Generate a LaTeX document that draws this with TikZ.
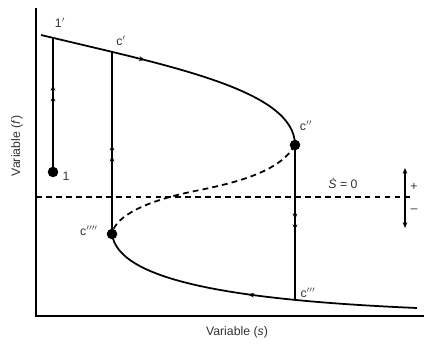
\documentclass[tikz,border=0pt]{standalone}
\usepackage{fontspec}
\setmainfont{Liberation Sans}
\usetikzlibrary{arrows.meta,decorations.markings,intersections}
\tikzset{
  curve/.style={line width=1.5pt},
  axis/.style={line width=1.6pt},
  tip/.tip={Stealth[length=5pt,width=4pt]},
  onehead/.style={postaction={decorate},
    decoration={markings,mark=at position #1 with {\arrow{tip}}}},
  backhead/.style={postaction={decorate},
    decoration={markings,mark=at position #1 with {\arrowreversed{tip}}}},
  twoheads/.style 2 args={postaction={decorate},
    decoration={markings,mark=at position #1 with {\arrow{tip}},
      mark=at position #2 with {\arrow{tip}}}},
  lbl/.style={font=\fontsize{10.5}{12}\selectfont,text=black!80,inner sep=1pt},
  dot/.style={circle,fill,inner sep=0pt,minimum size=9pt}
}
\begin{document}
\begin{tikzpicture}[x=0.03cm,y=-0.03cm]
  \useasboundingbox (0,0) rectangle (425,345);
  % axes
  \coordinate (orig) at (36,316);
  \draw[axis] (36,8) -- (orig) -- (424,316);
  \node[lbl,rotate=90] (labf) at (17,146) {Variable (\textit{f})};
  \node[lbl] (labs) at (237,332) {Variable (\textit{s})};
  % the S shaped curve
  \coordinate (top) at (41,35);
  \coordinate (cpp) at (295,145);
  \coordinate (c4) at (112,234);
  \coordinate (bot) at (417,308);
  \draw[curve,name path=upper,onehead=0.37] (top) .. controls (170,66) and (295,90) .. (cpp);
  \draw[curve,dashed,dash pattern=on 5pt off 3.5pt] (cpp) .. controls (280,172) and (235,183) .. (195,191)
    .. controls (150,200) and (115,215) .. (c4);
  \draw[curve,name path=lower,backhead=0.48] (c4) .. controls (118,280) and (230,300) .. (bot);
  % zero line
  \coordinate (zl) at (36,197);
  \coordinate (zr) at (413,197);
  \draw[line width=1.3pt,dash pattern=on 5pt off 3.5pt] (zl) -- (zr);
  \node[lbl] (labzero) at (343,183) {\textit{\.S} = 0};
  \coordinate (sgn) at (405,197);
  \draw[line width=1.1pt,-tip] (sgn) -- ++(0,-29) coordinate (sgnup);
  \draw[line width=1.1pt,-tip] (sgn) -- ++(0,31) coordinate (sgndn);
  \node[lbl] (labplus) at (414,187) {+};
  \node[lbl] (labminus) at (414,211) {\textendash};
  % jumps
  \coordinate (one) at (53,172);
  \path[name path=vone] (one) -- ++(0,-200);
  \path[name path=vcp] (c4) -- ++(0,-220);
  \path[name path=vcpp] (cpp) -- ++(0,200);
  \path[name intersections={of=upper and vone,by=onep}];
  \path[name intersections={of=upper and vcp,by=cp}];
  \path[name intersections={of=lower and vcpp,by=cppp}];
  \draw[curve,twoheads={0.57}{0.65}] (one) -- (onep);
  \draw[curve,twoheads={0.43}{0.49}] (c4) -- (cp);
  \draw[curve,twoheads={0.48}{0.55}] (cpp) -- (cppp);
  \node[dot] (dotone) at (one) {};
  \node[dot] (dotcpp) at (cpp) {};
  \node[dot] (dotc4) at (c4) {};
  % labels
  \node[lbl] (labone) at (66,176) {1};
  \node[lbl] (labonep) at (60,23) {1$'$};
  \node[lbl] (labcp) at (121,41) {c$'$};
  \node[lbl] (labcpp) at (306,126) {c$''$};
  \node[lbl] (labcppp) at (308,293) {c$'''$};
  \node[lbl] (labc4) at (89,231) {c$''''$};
\end{tikzpicture}
\end{document}
